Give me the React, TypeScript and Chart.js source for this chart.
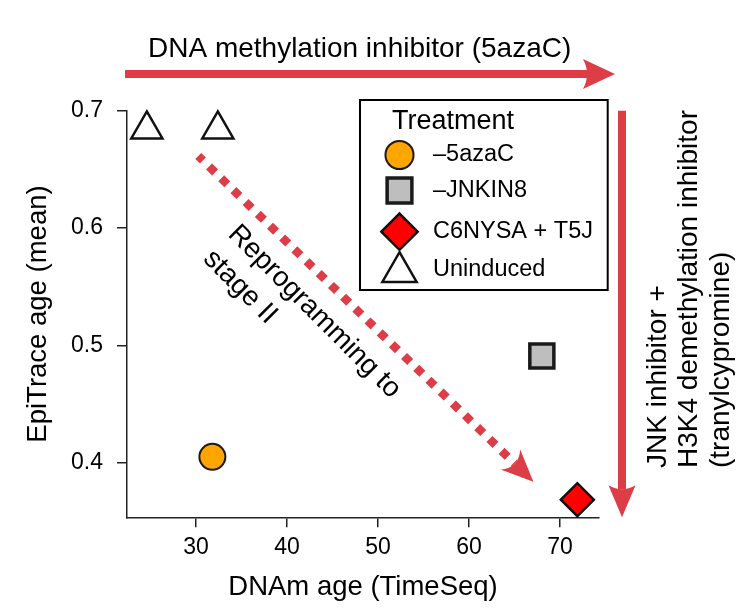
import React, { useEffect, useRef } from 'react';
import { Chart, registerables } from 'chart.js';
import { drawPoint } from 'chart.js/helpers';

Chart.register(...registerables);

// ---- data ----
const seriesLabels = ['–5azaC', '–JNKIN8', 'C6NYSA + T5J', 'Uninduced'];
const aza5X = [31.8];
const aza5Y = [0.405];
const jnkin8X = [68.0];
const jnkin8Y = [0.491];
const c6nysaX = [71.9];
const c6nysaY = [0.3685];
const uninducedX = [24.6, 32.4];
const uninducedY = [0.684, 0.684];

const xTickValues = [30, 40, 50, 60, 70];
const yTickValues = [0.4, 0.5, 0.6, 0.7];
const xLimits = [22.42, 74.28];
const yLimits = [0.3535, 0.7];

const xTitle = 'DNAm age (TimeSeq)';
const yTitle = 'EpiTrace age (mean)';
const legendTitle = 'Treatment';
const topLabel = 'DNA methylation inhibitor (5azaC)';
const rightLabel = ['JNK inhibitor +', 'H3K4 demethylation inhibitor', '(tranylcypromine)'];
const diagLabel = ['Reprogramming to', 'stage II'];

// ---- styles ----
const FONT = '"Liberation Sans", Arial, sans-serif';
const RED = '#dc3d47';
const markerStyles = [
  { pointStyle: 'circle', radius: 13, bg: '#FFA500', border: '#1a1a1a', bw: 2 },
  { pointStyle: 'rect', radius: 17, bg: '#BEBEBE', border: '#1a1a1a', bw: 3.5 },
  { pointStyle: 'rectRot', radius: 16.5, bg: '#FF0000', border: '#111111', bw: 2.5 },
  { pointStyle: 'triangle', radius: 18, bg: '#FFFFFF', border: '#111111', bw: 2.5 },
];
const legendMarkerScale = [1.08, 1.03, 1.1, 1.1];

Chart.defaults.font.family = FONT;
Chart.defaults.color = '#000';

function toPoints(xs: number[], ys: number[]) {
  return xs.map((v, i) => ({ x: v, y: ys[i] }));
}

function drawArrow(
  ctx: CanvasRenderingContext2D,
  x0: number, y0: number, x1: number, y1: number,
  o: { width: number; headLen: number; headHalf: number; notch: number; dash?: number[]; offset?: number }
) {
  const dx = x1 - x0, dy = y1 - y0;
  const len = Math.hypot(dx, dy);
  const ux = dx / len, uy = dy / len;
  const nx = -uy, ny = ux;
  const bx = x1 - ux * o.headLen, by = y1 - uy * o.headLen;
  ctx.save();
  ctx.strokeStyle = RED;
  ctx.fillStyle = RED;
  ctx.lineWidth = o.width;
  ctx.lineCap = 'butt';
  if (o.dash) {
    ctx.setLineDash(o.dash);
    ctx.lineDashOffset = o.offset || 0;
  }
  ctx.beginPath();
  ctx.moveTo(x0, y0);
  ctx.lineTo(bx + ux * o.notch, by + uy * o.notch);
  ctx.stroke();
  ctx.setLineDash([]);
  ctx.beginPath();
  ctx.moveTo(x1, y1);
  ctx.lineTo(bx + nx * o.headHalf, by + ny * o.headHalf);
  ctx.quadraticCurveTo(bx + ux * o.notch * 2, by + uy * o.notch * 2, bx - nx * o.headHalf, by - ny * o.headHalf);
  ctx.closePath();
  ctx.fill();
  ctx.restore();
}

const annotationPlugin = {
  id: 'annotations',
  afterDraw(chart: any) {
    const { ctx, chartArea: ca, scales } = chart;
    const xs = scales.x, ys = scales.y;
    ctx.save();

    // top arrow + label
    const topY = ca.top - 36.7;
    drawArrow(ctx, ca.left - 2, topY, ca.right + 16, topY, { width: 8, headLen: 32, headHalf: 15, notch: 4 });
    ctx.fillStyle = '#000';
    ctx.font = `28px ${FONT}`;
    ctx.textAlign = 'left';
    ctx.textBaseline = 'alphabetic';
    ctx.fillText(topLabel, ca.left + 21, ca.top - 54);

    // right vertical arrow + label
    const rx = ca.right + 23;
    drawArrow(ctx, rx, ca.top, rx, ca.bottom, { width: 8, headLen: 32, headHalf: 13.5, notch: 4 });
    ctx.save();
    ctx.translate(ca.right + 59, 468);
    ctx.rotate(-Math.PI / 2);
    ctx.fillStyle = '#000';
    ctx.font = `28px ${FONT}`;
    ctx.textAlign = 'left';
    ctx.textBaseline = 'middle';
    rightLabel.forEach((t, i) => ctx.fillText(t, 0, i * 31.5));
    ctx.restore();

    // diagonal dashed arrow
    const sx = xs.getPixelForValue(30.25), sy = ys.getPixelForValue(0.6614);
    const ex = xs.getPixelForValue(67.07), ey = ys.getPixelForValue(0.3838);
    drawArrow(ctx, sx, sy, ex, ey, { width: 8.5, headLen: 32, headHalf: 14, notch: 6, dash: [8.5, 8.5], offset: 2 });

    // diagonal label
    ctx.save();
    ctx.translate(xs.getPixelForValue(34.0), ys.getPixelForValue(0.5985));
    ctx.rotate(Math.atan2(ey - sy, ex - sx) + 0.015);
    ctx.fillStyle = '#000';
    ctx.font = `28px ${FONT}`;
    ctx.textAlign = 'left';
    ctx.textBaseline = 'middle';
    diagLabel.forEach((t, i) => ctx.fillText(t, 0, i * 35));
    ctx.restore();

    // legend
    const lx0 = 360, ly0 = 100, lx1 = 607.7, ly1 = 290;
    ctx.fillStyle = '#fff';
    ctx.fillRect(lx0, ly0, lx1 - lx0, ly1 - ly0);
    ctx.strokeStyle = '#000';
    ctx.lineWidth = 2;
    ctx.strokeRect(lx0, ly0, lx1 - lx0, ly1 - ly0);
    ctx.fillStyle = '#000';
    ctx.font = `27px ${FONT}`;
    ctx.textAlign = 'left';
    ctx.textBaseline = 'alphabetic';
    ctx.fillText(legendTitle, 392, 129);
    const itemY = [155, 190.5, 231.7, 270];
    const markerDy = [0, 0, 0, 2];
    seriesLabels.forEach((label, i) => {
      const st = markerStyles[i];
      ctx.save();
      ctx.fillStyle = st.bg;
      ctx.strokeStyle = st.border;
      ctx.lineWidth = st.bw;
      drawPoint(ctx, { pointStyle: st.pointStyle, rotation: 0, radius: st.radius * legendMarkerScale[i], borderWidth: st.bw } as any, 399.5, itemY[i] + markerDy[i]);
      ctx.restore();
      ctx.fillStyle = '#000';
      ctx.font = `23.5px ${FONT}`;
      ctx.textBaseline = 'middle';
      ctx.fillText(label, 433, itemY[i]);
    });

    ctx.restore();
  },
};

export default function App() {
  const ref = useRef<HTMLCanvasElement>(null);
  useEffect(() => {
    const canvas = ref.current!;
    const seriesData = [
      toPoints(aza5X, aza5Y),
      toPoints(jnkin8X, jnkin8Y),
      toPoints(c6nysaX, c6nysaY),
      toPoints(uninducedX, uninducedY),
    ];
    const chart = new Chart(canvas, {
      type: 'scatter',
      data: {
        datasets: seriesData.map((d, i) => ({
          label: seriesLabels[i],
          data: d,
          pointStyle: markerStyles[i].pointStyle as any,
          pointRadius: markerStyles[i].radius,
          pointHoverRadius: markerStyles[i].radius,
          pointBackgroundColor: markerStyles[i].bg,
          pointBorderColor: markerStyles[i].border,
          pointBorderWidth: markerStyles[i].bw,
          clip: false as any,
        })),
      },
      options: {
        responsive: false,
        animation: false,
        devicePixelRatio: 1,
        events: [],
        layout: { padding: { top: 110.7, right: 149, bottom: 0, left: 0 } },
        plugins: { legend: { display: false }, tooltip: { enabled: false } },
        scales: {
          x: {
            type: 'linear',
            min: xLimits[0],
            max: xLimits[1],
            afterBuildTicks: (s: any) => { s.ticks = xTickValues.map((v) => ({ value: v })); },
            afterFit: (s: any) => { s.height = 91.7; },
            grid: { display: true, drawOnChartArea: false, drawTicks: true, tickLength: 10, color: '#222', lineWidth: 1.5 },
            border: { display: true, color: '#222', width: 1.5 },
            ticks: { padding: 7, font: { size: 23 }, color: '#000', callback: (v: any) => String(v) },
            title: { display: true, text: xTitle, font: { size: 27.5 }, color: '#000', padding: { top: 0, bottom: 5.3 } },
          },
          y: {
            type: 'linear',
            min: yLimits[0],
            max: yLimits[1],
            afterBuildTicks: (s: any) => { s.ticks = yTickValues.map((v) => ({ value: v })); },
            afterFit: (s: any) => { s.width = 127; },
            grid: { display: true, drawOnChartArea: false, drawTicks: true, tickLength: 10, color: '#222', lineWidth: 1.5 },
            border: { display: true, color: '#222', width: 1.5 },
            ticks: { padding: 14, font: { size: 23 }, color: '#000', callback: (v: any) => Number(v).toFixed(1) },
            title: { display: true, text: yTitle, font: { size: 27.5 }, color: '#000', padding: { top: 22, bottom: 0 } },
          },
        },
      },
      plugins: [annotationPlugin],
    });
    return () => chart.destroy();
  }, []);
  return (
    <div style={{ position: 'absolute', left: 0, top: 0, width: 748, height: 609, background: '#fff' }}>
      <canvas ref={ref} width={748} height={609} style={{ display: 'block', width: '748px', height: '609px' }} />
    </div>
  );
}
